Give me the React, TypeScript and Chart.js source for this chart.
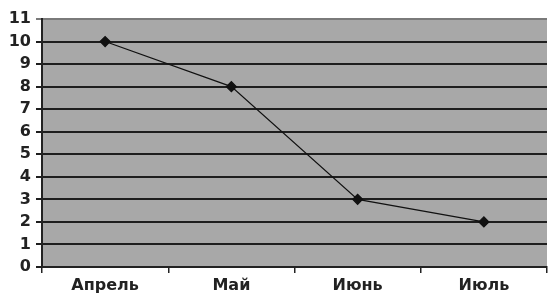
import React, { useEffect, useRef } from "react";
import { Chart, registerables } from "chart.js";
Chart.register(...registerables);

const categories = ["Апрель", "Май", "Июнь", "Июль"];
const values = [10, 8, 3, 2];
const yMin = 0;
const yMax = 11;

const bgPlugin = {
  id: "bgPlugin",
  beforeDraw(chart: any) {
    const { ctx, chartArea } = chart;
    ctx.save();
    ctx.fillStyle = "#a8a8a8";
    ctx.fillRect(chartArea.left, chartArea.top, chartArea.right - chartArea.left, chartArea.bottom - chartArea.top);
    ctx.restore();
  },
};

export default function App() {
  const ref = useRef<HTMLCanvasElement>(null);
  useEffect(() => {
    document.body.style.margin = "0";
    const chart = new Chart(ref.current!, {
      type: "line",
      data: {
        labels: categories,
        datasets: [
          {
            data: values,
            borderColor: "#111",
            borderWidth: 1.2,
            pointStyle: "rectRot",
            pointRadius: 5,
            pointBackgroundColor: "#111",
            pointBorderColor: "#111",
            tension: 0,
          },
        ],
      },
      plugins: [bgPlugin],
      options: {
        animation: false,
        responsive: false,
        maintainAspectRatio: false,
        layout: { autoPadding: false, padding: { top: 19, right: 1, left: 0, bottom: 0 } },
        plugins: { legend: { display: false }, tooltip: { enabled: false } },
        scales: {
          x: {
            offset: true,
            grid: {
              offset: true,
              drawOnChartArea: false,
              color: "#222",
              tickLength: 6,
              lineWidth: 1.5,
            },
            border: { color: "#222", width: 2 },
            ticks: {
              color: "#222",
              padding: 3,
              font: { family: "DejaVu Sans", weight: "bold", size: 16 },
            },
            afterFit(scale: any) {
              scale.height = 30;
            },
          },
          y: {
            min: yMin,
            max: yMax,
            grid: {
              color: (c: any) => (c.tick && c.tick.value === yMax ? "#7a7a7a" : "#1e1e1e"),
              lineWidth: 2,
              tickLength: 6,
            },
            border: { color: "#222", width: 2 },
            ticks: {
              stepSize: 1,
              color: "#222",
              padding: 5,
              font: { family: "DejaVu Sans", weight: "bold", size: 16 },
            },
            afterFit(scale: any) {
              scale.width = 42;
            },
          },
        },
      },
    });
    return () => chart.destroy();
  }, []);
  return (
    <div style={{ width: 548, height: 297 }}>
      <canvas ref={ref} width={548} height={297} style={{ display: "block" }} />
    </div>
  );
}
